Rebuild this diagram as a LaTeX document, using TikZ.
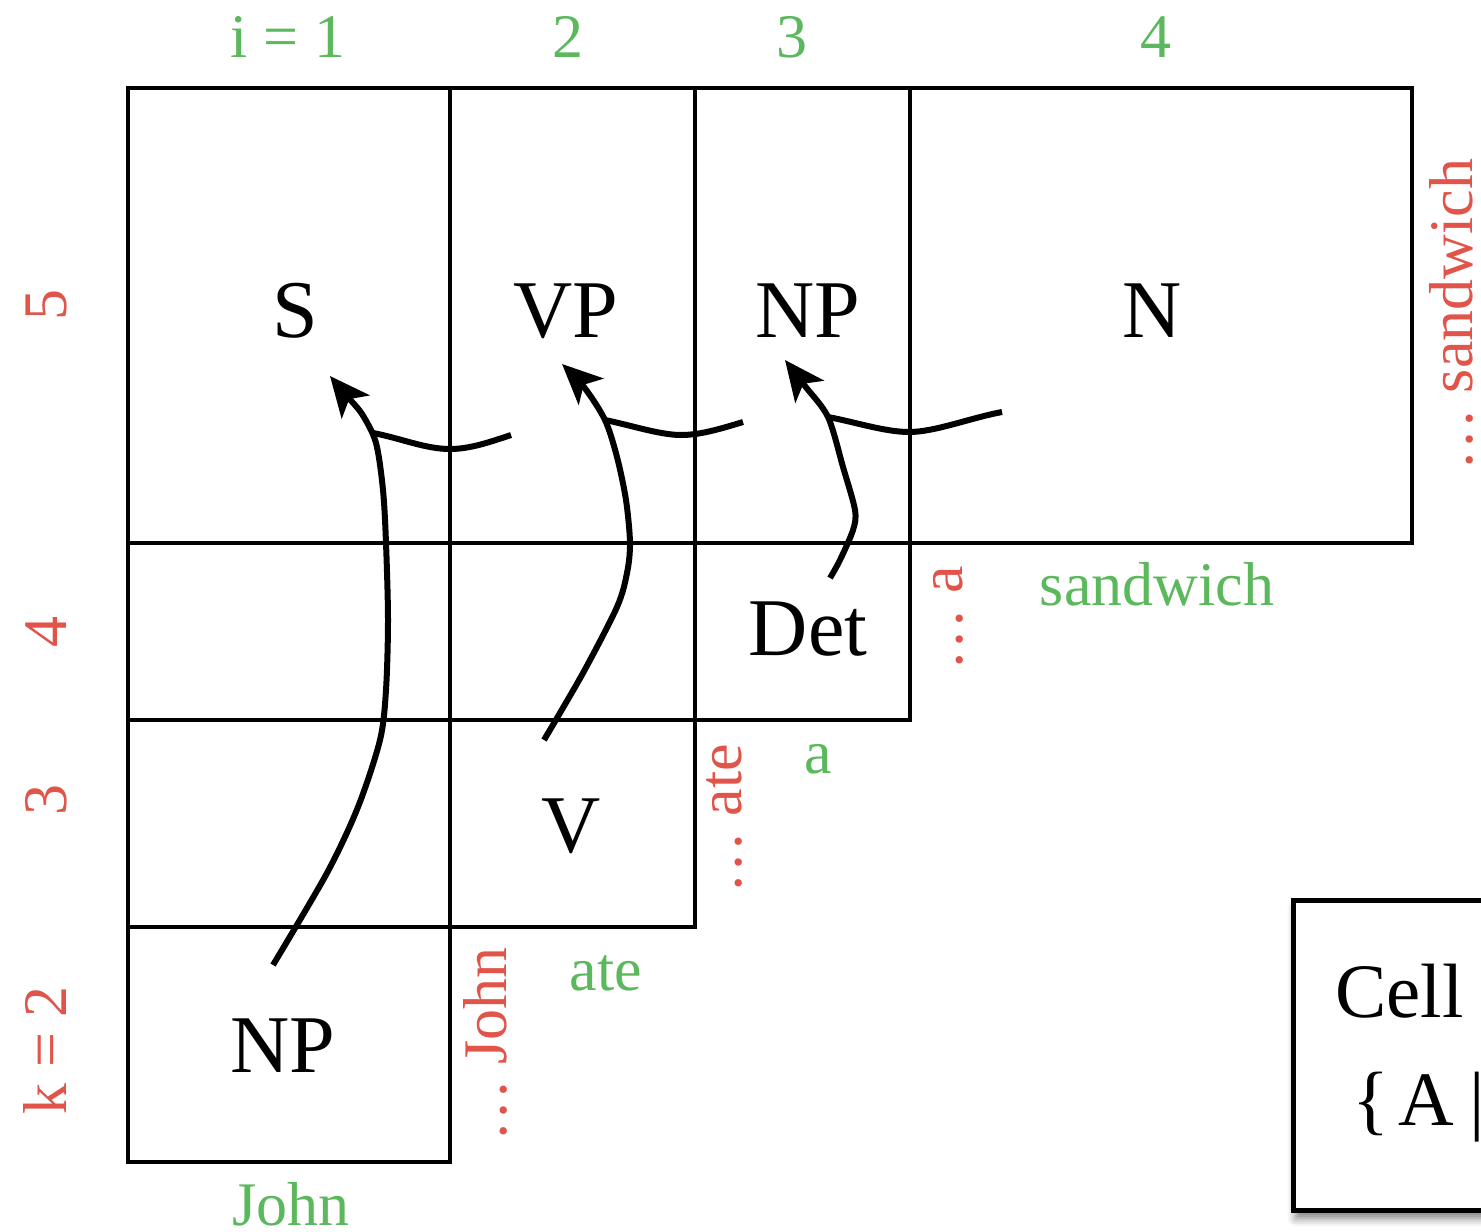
\documentclass[tikz,border=0pt]{standalone}
\usepackage{fontspec}
\setmainfont{Liberation Serif}
\usetikzlibrary{arrows.meta,shadows.blur}
\definecolor{wordgreen}{RGB}{92,184,92}
\definecolor{spanred}{RGB}{224,84,74}
\begin{document}
\begin{tikzpicture}[x=0.5pt,y=-0.5pt,
  cellbox/.style={draw, line width=2.2pt},
  cat/.style={font=\fontsize{41}{41}\selectfont, anchor=base, inner sep=0pt},
  word/.style={text=wordgreen, font=\fontsize{31}{31}\selectfont, anchor=base, inner sep=0pt},
  spanlab/.style={text=spanred, font=\fontsize{31}{31}\selectfont, rotate=90, anchor=base west, inner sep=0pt},
  klab/.style={text=spanred, font=\fontsize{31}{31}\selectfont, rotate=90, anchor=base, inner sep=0pt},
  deriv/.style={line width=3pt},
  derivtip/.style={deriv, -{Stealth[length=20pt,width=18pt,inset=5pt]}},
  boxtext/.style={font=\fontsize{38.5}{38.5}\selectfont, anchor=base west, inner sep=0pt}
]
\useasboundingbox (0,0) rectangle (1481,1231);

% chart cells, row k = 5 down to k = 2
\draw[cellbox] (128,88) rectangle (450,543);
\draw[cellbox] (450,88) rectangle (695,543);
\draw[cellbox] (695,88) rectangle (910,543);
\draw[cellbox] (910,88) rectangle (1412,543);
\draw[cellbox] (128,543) rectangle (450,720);
\draw[cellbox] (450,543) rectangle (695,720);
\draw[cellbox] (695,543) rectangle (910,720);
\draw[cellbox] (128,720) rectangle (450,927);
\draw[cellbox] (450,720) rectangle (695,927);
\draw[cellbox] (128,927) rectangle (450,1162);

% categories
\node[cat] (S) at (295,337) {S};
\node[cat] (VP) at (566,337) {VP};
\node[cat] (NPtop) at (808,337) {NP};
\node[cat] (N) at (1152,337) {N};
\node[cat] (Det) at (808,655) {Det};
\node[cat] (V) at (571,852) {V};
\node[cat] (NPbot) at (283,1072) {NP};

% start positions
\node[word] (i1) at (288,57) {i = 1};
\node[word] (i2) at (568,57) {2};
\node[word] (i3) at (792,57) {3};
\node[word] (i4) at (1156,57) {4};

% span lengths
\node[klab] (k5) at (66,305) {5};
\node[klab] (k4) at (66,632) {4};
\node[klab] (k3) at (66,800) {3};
\node[klab] (k2) at (66,1050) {k = 2};

% words under the cells
\node[word] (wsandwich) at (1157,605) {sandwich};
\node[word] (wa) at (818,773) {a};
\node[word] (wate) at (606,990) {ate};
\node[word] (wjohn) at (291,1225) {John};

% span ends
\node[spanlab] (esandwich) at (1472,471) {… sandwich};
\node[spanlab] (ea) at (962,671) {… a};
\node[spanlab] (eate) at (741,894) {… ate};
\node[spanlab] (ejohn) at (506,1142) {… John};

% derivations: long stroke from the lower cell, short merge stroke from the right
\draw[derivtip] plot[smooth, tension=0.5] coordinates {(273,965) (327,873) (358,807) (380,740) (386,690) (388,620) (386,543) (383,490) (376,443) (362,414) (345,394) (330,376)};
\draw[deriv] (373,433) .. controls (400,438) and (425,449) .. (450,449)
                       .. controls (470,449) and (490,442) .. (511,435);

\draw[derivtip] plot[smooth, tension=0.5] coordinates {(544,740) (583,673) (617,607) (627,573) (630,543) (626,500) (617,457) (605,420) (584,387) (562,364)};
\draw[deriv] (605,420) .. controls (630,425) and (660,435) .. (681,435)
                       .. controls (700,435) and (720,429) .. (743,422);

\draw[derivtip] plot[smooth, tension=0.5] coordinates {(830,578) (840,560) (853,530) (855,510) (843,467) (828,417) (805,386) (785,360)};
\draw[deriv] (828,417) .. controls (855,422) and (885,432) .. (909,432)
                       .. controls (935,432) and (970,418) .. (1002,412);

% definition box
\node[draw, line width=2.5pt, fill=white, anchor=north west,
      minimum width=135pt, minimum height=155pt, inner sep=0pt,
      blur shadow={shadow xshift=1pt, shadow yshift=-4pt, shadow blur radius=4pt, shadow opacity=50}]
  (defbox) at (1291,898) {};
\node[boxtext] (cellword) at (1335,1017) {Cell};
\node[boxtext] (setopen) at (1352,1125) {\{\hspace{4.5pt}A\hspace{8pt}|};
\end{tikzpicture}
\end{document}
